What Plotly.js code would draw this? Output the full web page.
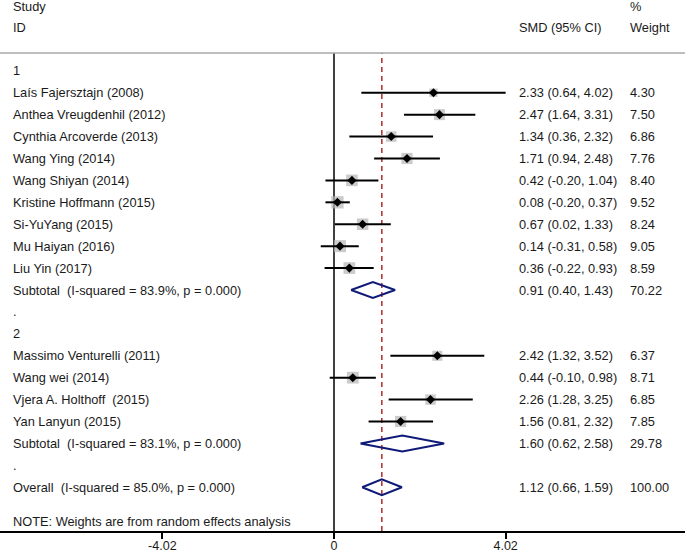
<!DOCTYPE html>
<html>
<head>
<meta charset="utf-8">
<script src="https://cdn.plot.ly/plotly-3.0.1.min.js"></script>
<style>html,body{margin:0;padding:0;background:#fff;}#chart{width:685px;height:555px;}</style>
</head>
<body>
<div id="chart"></div>
<script>
// ---- data ----
const groupLabels = ["1", "2"];

const group1Names = ["Laís Fajersztajn (2008)", "Anthea Vreugdenhil (2012)", "Cynthia Arcoverde (2013)",
  "Wang Ying (2014)", "Wang Shiyan (2014)", "Kristine Hoffmann (2015)", "Si-YuYang (2015)",
  "Mu Haiyan (2016)", "Liu Yin (2017)"];
const group1Est = [2.33, 2.47, 1.34, 1.71, 0.42, 0.08, 0.67, 0.14, 0.36];
const group1Lo  = [0.64, 1.64, 0.36, 0.94, -0.20, -0.20, 0.02, -0.31, -0.22];
const group1Hi  = [4.02, 3.31, 2.32, 2.48, 1.04, 0.37, 1.33, 0.58, 0.93];
const group1Wt  = [4.30, 7.50, 6.86, 7.76, 8.40, 9.52, 8.24, 9.05, 8.59];

const group2Names = ["Massimo Venturelli (2011)", "Wang wei (2014)", "Vjera A. Holthoff\u00a0 (2015)", "Yan Lanyun (2015)"];
const group2Est = [2.42, 0.44, 2.26, 1.56];
const group2Lo  = [1.32, -0.10, 1.28, 0.81];
const group2Hi  = [3.52, 0.98, 3.25, 2.32];
const group2Wt  = [6.37, 8.71, 6.85, 7.85];

const summaryLabels = ["Subtotal\u00a0 (I-squared = 83.9%, p = 0.000)",
                       "Subtotal\u00a0 (I-squared = 83.1%, p = 0.000)",
                       "Overall\u00a0 (I-squared = 85.0%, p = 0.000)"];
const summaryEst = [0.91, 1.60, 1.12];
const summaryLo  = [0.40, 0.62, 0.66];
const summaryHi  = [1.43, 2.58, 1.59];
const summaryWt  = [70.22, 29.78, 100.00];

const tickVals = [-4.02, 0, 4.02];
const tickText = ["-4.02", "0", "4.02"];
const noteText = "NOTE: Weights are from random effects analysis";

// ---- build rows ----
const rows = [];
function addGroup(label, names, est, lo, hi, wt, si) {
  rows.push({label: label});
  names.forEach((n, i) => rows.push({label: n, kind: "study", est: est[i], lo: lo[i], hi: hi[i], wt: wt[i]}));
  rows.push({label: summaryLabels[si], kind: "sum", est: summaryEst[si], lo: summaryLo[si], hi: summaryHi[si], wt: summaryWt[si]});
  rows.push({label: "."});
}
addGroup(groupLabels[0], group1Names, group1Est, group1Lo, group1Hi, group1Wt, 0);
addGroup(groupLabels[1], group2Names, group2Est, group2Lo, group2Hi, group2Wt, 1);
rows.push({label: summaryLabels[2], kind: "sum", est: summaryEst[2], lo: summaryLo[2], hi: summaryHi[2], wt: summaryWt[2]});

const FONT = "Liberation Sans, Arial, Helvetica, sans-serif";
const FS = 12.8;
const TXT = "#1a1a1a";
const W = 685, H = 555, MT = 53, MB = 24;
const colSMD = 517 / W, colWt = 627.5 / W, colLab = 10.5 / W;

const ciX = [], ciY = [], sqX = [], sqY = [], sqS = [], dX = [], dY = [];
const annotations = [];
const dh = 0.365;
rows.forEach((r, i) => {
  annotations.push({xref: "paper", yref: "y", x: colLab, y: i, text: r.label, xanchor: "left", yanchor: "middle", showarrow: false});
  if (r.kind === "study") {
    ciX.push(r.lo, r.hi, null); ciY.push(i, i, null);
    sqX.push(r.est); sqY.push(i); sqS.push(4.0 * Math.sqrt(r.wt));
  }
  if (r.kind === "sum") {
    dX.push(r.lo, r.est, r.hi, r.est, r.lo, null);
    dY.push(i, i - dh, i, i + dh, i, null);
  }
  if (r.kind) {
    annotations.push({xref: "paper", yref: "y", x: colSMD, y: i,
      text: r.est.toFixed(2) + " (" + r.lo.toFixed(2) + ", " + r.hi.toFixed(2) + ")",
      xanchor: "left", yanchor: "middle", showarrow: false});
    annotations.push({xref: "paper", yref: "y", x: colWt, y: i, text: r.wt.toFixed(2),
      xanchor: "left", yanchor: "middle", showarrow: false});
  }
});

const plotH = H - MT - MB;
function py(pix) { return 1 + (MT - pix) / plotH; }
annotations.push({xref: "paper", yref: "paper", x: colLab, y: py(7), text: "Study", xanchor: "left", yanchor: "middle", showarrow: false});
annotations.push({xref: "paper", yref: "paper", x: colLab, y: py(27.5), text: "ID", xanchor: "left", yanchor: "middle", showarrow: false});
annotations.push({xref: "paper", yref: "paper", x: colSMD, y: py(27.5), text: "SMD (95% CI)", xanchor: "left", yanchor: "middle", showarrow: false});
annotations.push({xref: "paper", yref: "paper", x: colWt, y: py(7), text: "%", xanchor: "left", yanchor: "middle", showarrow: false});
annotations.push({xref: "paper", yref: "paper", x: colWt, y: py(27.5), text: "Weight", xanchor: "left", yanchor: "middle", showarrow: false});
annotations.push({xref: "paper", yref: "paper", x: colLab, y: py(521), text: noteText, xanchor: "left", yanchor: "middle", showarrow: false});

const traces = [
  {type: "scatter", mode: "markers", x: sqX, y: sqY, hoverinfo: "skip",
   marker: {symbol: "square", size: sqS, color: "#b5b5b5", line: {width: 0}}},
  {type: "scatter", mode: "lines", x: ciX, y: ciY, hoverinfo: "skip",
   line: {color: "#000000", width: 2}},
  {type: "scatter", mode: "markers", x: sqX, y: sqY, hoverinfo: "skip",
   marker: {symbol: "diamond", size: 7, color: "#000000", line: {width: 0}}},
  {type: "scatter", mode: "lines", x: dX, y: dY, hoverinfo: "skip",
   line: {color: "#0f1a78", width: 2}}
];

// x pixel = 334 + 42.7 * v
const pxPerUnit = 42.7, x0pix = 334;
const xr = [-x0pix / pxPerUnit, (W - x0pix) / pxPerUnit];
const yTopRow = (MT - 70.8) / 21.92, yBotRow = (H - MB - 70.8) / 21.92;

const layout = {
  width: W, height: H,
  margin: {l: 0, r: 0, t: MT, b: MB, pad: 0},
  paper_bgcolor: "#ffffff", plot_bgcolor: "#ffffff",
  showlegend: false, hovermode: false,
  font: {family: FONT, size: FS, color: TXT},
  xaxis: {range: xr, showgrid: false, zeroline: false, showline: true, linecolor: "#000", linewidth: 1.5,
          ticks: "outside", ticklen: 6, tickwidth: 2, tickcolor: "#000", ticklabelstandoff: -4,
          tickvals: tickVals, ticktext: tickText, tickfont: {family: FONT, size: 12.5, color: TXT}, fixedrange: true},
  yaxis: {range: [yBotRow, yTopRow], visible: false, fixedrange: true},
  annotations: annotations,
  shapes: [
    {type: "line", xref: "paper", yref: "paper", x0: 0, x1: 1, y0: 1, y1: 1, line: {color: "#a8a8a8", width: 1.5}},
    {type: "line", xref: "x", yref: "paper", x0: 0, x1: 0, y0: 0, y1: 1, line: {color: "#000", width: 1.5}, layer: "below"},
    {type: "line", xref: "x", yref: "paper", x0: summaryEst[2], x1: summaryEst[2], y0: 0, y1: 1,
     line: {color: "#b22a2a", width: 1.5, dash: "5px,4px"}, layer: "below"}
  ]
};

Plotly.newPlot("chart", traces, layout, {displayModeBar: false, staticPlot: true});
</script>
</body>
</html>
